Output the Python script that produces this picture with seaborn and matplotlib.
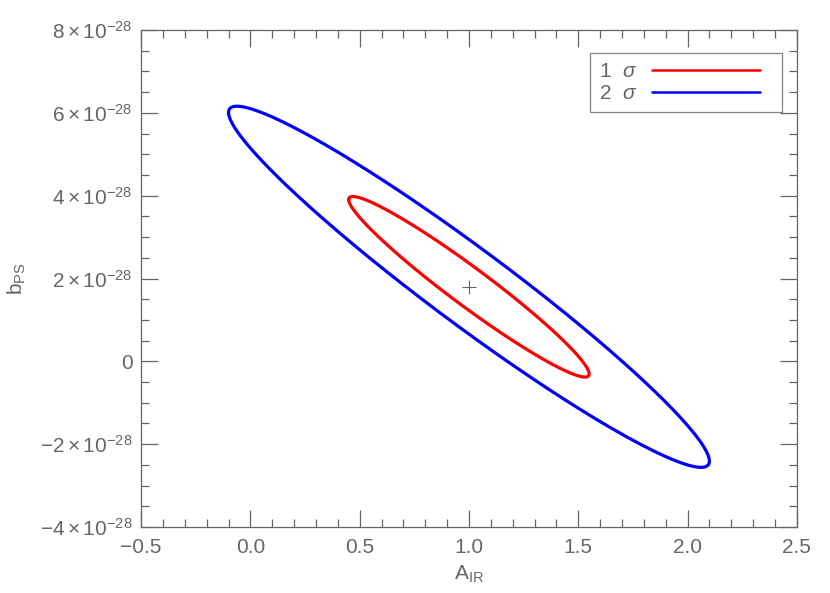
import numpy as np
import pandas as pd
import matplotlib
matplotlib.use("Agg")
import matplotlib.pyplot as plt
import seaborn as sns
from matplotlib.ticker import MultipleLocator, FixedLocator, FuncFormatter
from matplotlib.lines import Line2D
from matplotlib.legend_handler import HandlerLine2D

# ---- data ----
levels = ["1 σ", "2 σ"]
n_sigma = [1, 2]
level_colors = ["#ff0000", "#0000ff"]
center_A = 1.0
center_b = 1.8e-28
sigma_A = 0.55
sigma_b = 2.18e-28
rho = -0.965
x_ticks = [-0.5, 0.0, 0.5, 1.0, 1.5, 2.0, 2.5]
y_ticks = [-4e-28, -2e-28, 0.0, 2e-28, 4e-28, 6e-28, 8e-28]

sns.set_theme(style="ticks")
plt.rcParams["font.family"] = ["Liberation Sans", "DejaVu Sans"]
plt.rcParams["mathtext.fontset"] = "custom"
plt.rcParams["mathtext.rm"] = "Liberation Sans"
plt.rcParams["mathtext.it"] = "Liberation Sans:italic"
plt.rcParams["axes.unicode_minus"] = True

GRAY = "#666666"
FS = 15
fig = plt.figure(figsize=(8.30, 5.93), dpi=100)
ax = fig.add_axes([0.170, 0.1113, 0.790, 0.8381])

# ellipse boundaries built from the contour parameters
rows = []
t = np.linspace(np.pi, 3 * np.pi, 721)
for lab, k in zip(levels, n_sigma):
    xs = center_A + k * sigma_A * np.cos(t)
    ys = center_b + k * sigma_b * (rho * np.cos(t) + np.sqrt(1 - rho**2) * np.sin(t))
    rows.append(pd.DataFrame({"A": xs, "b": ys, "level": lab}))
df = pd.concat(rows, ignore_index=True)

sns.lineplot(data=df, x="A", y="b", hue="level", palette=dict(zip(levels, level_colors)),
             sort=False, estimator=None, units="level", lw=2.3, ax=ax, legend=False)

ax.plot([center_A], [center_b], marker="+", ms=10, mew=0.8, color=GRAY, ls="none")

ax.set_xlim(-0.5, 2.5)
ax.set_ylim(-4e-28, 8e-28)
ax.xaxis.set_major_locator(FixedLocator(x_ticks))
ax.xaxis.set_minor_locator(MultipleLocator(0.1))
ax.yaxis.set_major_locator(FixedLocator(y_ticks))
ax.yaxis.set_minor_locator(MultipleLocator(0.5e-28))

def xfmt(v, pos):
    return f"{v:.1f}".replace("-", "\u2212")

def yfmt(v, pos):
    m = int(round(v / 1e-28))
    if m == 0:
        return "0"
    return r"$%d\times10^{-28}$" % m

ax.xaxis.set_major_formatter(FuncFormatter(xfmt))
ax.yaxis.set_major_formatter(FuncFormatter(yfmt))

ax.tick_params(which="both", direction="in", top=True, right=True, color=GRAY,
               labelcolor=GRAY, labelsize=FS, width=0.9)
ax.tick_params(which="major", length=12)
ax.tick_params(which="minor", length=6)
ax.tick_params(axis="y", which="major", pad=6)
ax.tick_params(axis="x", which="major", pad=8)
for s in ax.spines.values():
    s.set_color(GRAY)
    s.set_linewidth(0.9)

ax.set_xlabel(r"A$_{\rm IR}$", color=GRAY, fontsize=FS, labelpad=5)
ax.set_ylabel(r"b$_{\rm PS}$", color=GRAY, fontsize=FS)
ax.yaxis.set_label_coords(-0.172, 0.5)


class ShortLine(HandlerLine2D):
    def __init__(self, cut, **kw):
        super().__init__(**kw)
        self.cut = cut

    def create_artists(self, legend, orig_handle, xdescent, ydescent, width, height, fontsize, trans):
        return super().create_artists(legend, orig_handle, xdescent, ydescent,
                                      width - self.cut * fontsize, height, fontsize, trans)


handles = [Line2D([], [], color=c, lw=1.8) for c in level_colors]
labels = [r"%d  $\sigma$" % k for k in n_sigma]
leg = ax.legend(handles, labels, loc="upper right", bbox_to_anchor=(0.9775, 0.953),
                markerfirst=False, frameon=True, fancybox=False, handlelength=5.8,
                handletextpad=0.7, borderpad=0.43, labelspacing=0.15, fontsize=FS,
                borderaxespad=0, handler_map={Line2D: ShortLine(0.63)})
leg.get_frame().set_edgecolor(GRAY)
leg.get_frame().set_linewidth(0.9)
for txt in leg.get_texts():
    txt.set_color(GRAY)

fig.savefig("out.png", dpi=100)
